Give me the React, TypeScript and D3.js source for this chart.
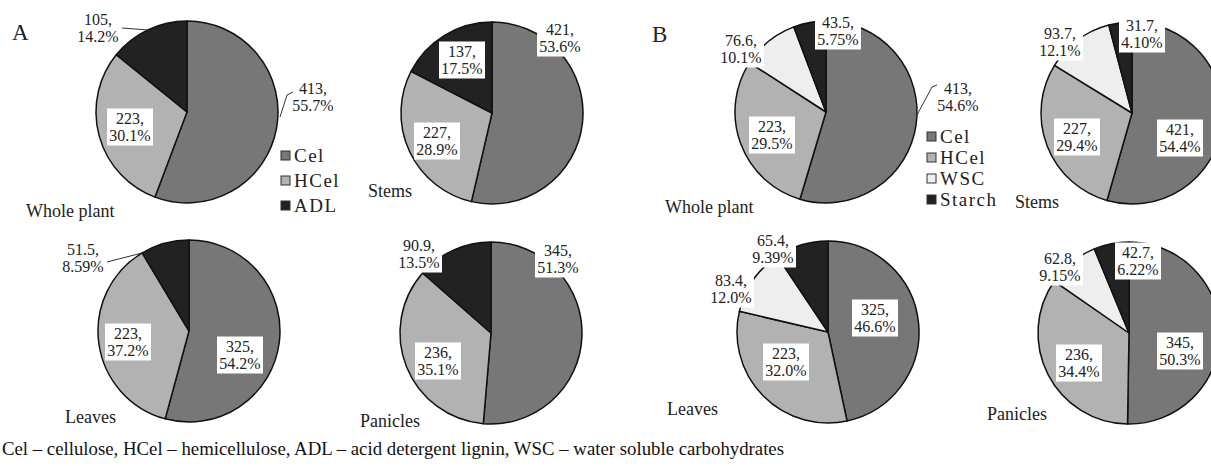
import React from "react";
import * as d3 from "d3";

// ---------- data ----------
const organs = ["Whole plant", "Stems", "Leaves", "Panicles"];
const categoriesA = ["Cel", "HCel", "ADL"];
const categoriesB = ["Cel", "HCel", "WSC", "Starch"];
const valuesA = [
  [413, 223, 105],
  [421, 227, 137],
  [325, 223, 51.5],
  [345, 236, 90.9],
];
const valuesB = [
  [413, 223, 76.6, 43.5],
  [421, 227, 93.7, 31.7],
  [325, 223, 83.4, 65.4],
  [345, 236, 62.8, 42.7],
];
const caption =
  "Cel \u2013 cellulose, HCel \u2013 hemicellulose, ADL \u2013 acid detergent lignin, WSC \u2013 water soluble carbohydrates";

// ---------- layout / style ----------
const W = 1211;
const H = 466;
const R = 91;
const colorsA = ["#777777", "#b2b2b2", "#222222"];
const colorsB = ["#777777", "#b2b2b2", "#eeeeee", "#222222"];

type PieLayout = {
  cx: number;
  cy: number;
  title: [number, number];
  labels: [number, number][];
  boxed: boolean[];
  leaders: ([number, number][] | null)[];
};

const layoutA: PieLayout[] = [
  {
    cx: 187, cy: 112, title: [-161, 105],
    labels: [[126, -15], [-57, 15], [-89, -84]],
    boxed: [false, true, false],
    leaders: [[[93, 5], [100, -17], [106, -20]], null, [[-65, -84], [-39, -82]]],
  },
  {
    cx: 492, cy: 113, title: [-124, 84],
    labels: [[68, -75], [-55, 28], [-30, -53]],
    boxed: [true, true, true],
    leaders: [null, null, null],
  },
  {
    cx: 189, cy: 331, title: [-124, 92],
    labels: [[51, 24], [-61, 11], [-106, -73]],
    boxed: [true, true, false],
    leaders: [null, null, [[-82, -69], [-47, -78]]],
  },
  {
    cx: 491, cy: 333, title: [-131, 94],
    labels: [[67, -74], [-53, 28], [-72, -79]],
    boxed: [true, true, true],
    leaders: [null, null, null],
  },
];

const layoutB: PieLayout[] = [
  {
    cx: 826, cy: 112, title: [-161, 101],
    labels: [[132, -15], [-54, 23], [-85, -63], [12, -81]],
    boxed: [false, true, true, true],
    leaders: [[[91, 3], [106, -25], [111, -27]], null, null, null],
  },
  {
    cx: 1132, cy: 113, title: [-117, 95],
    labels: [[48, 25], [-55, 24], [-72, -71], [10, -79]],
    boxed: [true, true, true, true],
    leaders: [null, null, null, null],
  },
  {
    cx: 828, cy: 332, title: [-161, 83],
    labels: [[47, -14], [-42, 30], [-97, -43], [-55, -83]],
    boxed: [true, true, true, true],
    leaders: [null, null, null, null],
  },
  {
    cx: 1129, cy: 333, title: [-142, 87],
    labels: [[51, 18], [-50, 30], [-69, -66], [9, -72]],
    boxed: [true, true, true, true],
    leaders: [null, null, null, null],
  },
];

const FONT = "Liberation Serif, Times New Roman, serif";
const pctFmt = d3.format(".3r");

function Pie({ values, colors, layout, organ }: { values: number[]; colors: string[]; layout: PieLayout; organ: string }) {
  const pie = d3.pie<number>().sort(null).value((d) => d);
  const arcs = pie(values);
  const arc = d3.arc<d3.PieArcDatum<number>>().innerRadius(0).outerRadius(R);
  const total = d3.sum(values);
  const line = d3.line();
  return (
    <g transform={`translate(${layout.cx},${layout.cy})`}>
      {arcs.map((a, i) => (
        <path key={i} d={arc(a) || ""} fill={colors[i]} stroke="#111" strokeWidth={1.5} strokeLinejoin="round" />
      ))}
      {layout.leaders.map((pts, i) =>
        pts ? <path key={"l" + i} d={line(pts) || ""} fill="none" stroke="#333" strokeWidth={1} /> : null
      )}
      {arcs.map((a, i) => {
        const [lx, ly] = layout.labels[i];
        const l1 = `${values[i]},`;
        const l2 = `${pctFmt((values[i] / total) * 100)}%`;
        const bw = 46;
        const bh = 37;
        return (
          <g key={"t" + i} transform={`translate(${lx},${ly})`}>
            {layout.boxed[i] && <rect x={-bw / 2} y={-bh / 2} width={bw} height={bh} fill="#fff" />}
            <text textAnchor="middle" style={{ fontFamily: FONT, fontSize: 16 }} fill="#222">
              <tspan x={0} y={-3}>{l1}</tspan>
              <tspan x={0} y={14}>{l2}</tspan>
            </text>
          </g>
        );
      })}
      <text x={layout.title[0]} y={layout.title[1]} style={{ fontFamily: FONT, fontSize: 18 }} fill="#222">
        {organ}
      </text>
    </g>
  );
}

function Legend({ x, y, step, cats, colors }: { x: number; y: number; step: number; cats: string[]; colors: string[] }) {
  return (
    <g transform={`translate(${x},${y})`}>
      {cats.map((c, i) => (
        <g key={c} transform={`translate(0,${i * step})`}>
          <rect x={0} y={-5} width={9} height={9} fill={colors[i]} stroke="#333" strokeWidth={1} />
          <text x={13} y={6} style={{ fontFamily: FONT, fontSize: 19, letterSpacing: 1.5 }} fill="#222">
            {c}
          </text>
        </g>
      ))}
    </g>
  );
}

export default function App() {
  return (
    <svg
      width={W}
      height={H}
      viewBox={`0 0 ${W} ${H}`}
      style={{ position: "absolute", left: 0, top: 0, background: "#fff", fontFamily: FONT }}
    >
      <rect x={0} y={0} width={W} height={H} fill="#fff" />
      <text x={12} y={40} style={{ fontFamily: FONT, fontSize: 23 }} fill="#222">A</text>
      <text x={652} y={42} style={{ fontFamily: FONT, fontSize: 23 }} fill="#222">B</text>
      {organs.map((o, i) => (
        <Pie key={"A" + o} values={valuesA[i]} colors={colorsA} layout={layoutA[i]} organ={o} />
      ))}
      {organs.map((o, i) => (
        <Pie key={"B" + o} values={valuesB[i]} colors={colorsB} layout={layoutB[i]} organ={o} />
      ))}
      <Legend x={281} y={156} step={25} cats={categoriesA} colors={colorsA} />
      <Legend x={927} y={137} step={21} cats={categoriesB} colors={colorsB} />
      <text x={2} y={455} style={{ fontFamily: FONT, fontSize: 18.8 }} fill="#111">{caption}</text>
    </svg>
  );
}
